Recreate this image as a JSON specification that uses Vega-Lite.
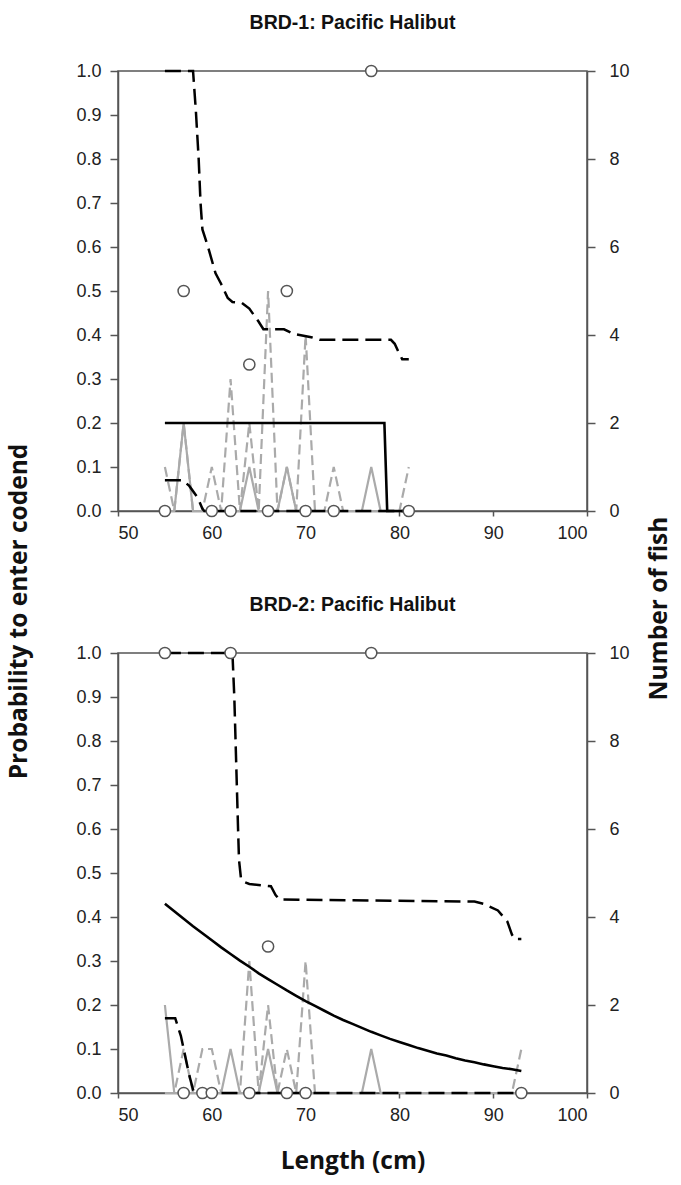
{
  "$schema": "https://vega.github.io/schema/vega-lite/v6.json",
  "padding": {"left": 6, "top": 11, "right": 4, "bottom": 5},
  "background": "white",
  "bounds": "flush",
  "spacing": 142,
  "config": {
    "view": {"stroke": "#555", "strokeWidth": 1.5},
    "axis": {"grid": false, "domainColor": "#555", "domainWidth": 1.5, "tickColor": "#555", "tickWidth": 1.5, "labelFont": "Liberation Sans", "labelFontSize": 18, "labelColor": "#222", "titleColor": "#111"},
    "title": {"font": "Liberation Sans", "fontSize": 19.5, "fontWeight": "bold", "color": "#111", "anchor": "middle", "offset": 29}
  },
  "datasets": {
    "counts": [
      {"panel":"BRD-1","series":"codend","length":55,"n":0},{"panel":"BRD-1","series":"codend","length":56,"n":0},{"panel":"BRD-1","series":"codend","length":57,"n":2},{"panel":"BRD-1","series":"codend","length":58,"n":0},{"panel":"BRD-1","series":"codend","length":59,"n":0},{"panel":"BRD-1","series":"codend","length":60,"n":0},{"panel":"BRD-1","series":"codend","length":61,"n":0},{"panel":"BRD-1","series":"codend","length":62,"n":0},{"panel":"BRD-1","series":"codend","length":63,"n":0},{"panel":"BRD-1","series":"codend","length":64,"n":1},{"panel":"BRD-1","series":"codend","length":65,"n":0},{"panel":"BRD-1","series":"codend","length":66,"n":0},{"panel":"BRD-1","series":"codend","length":67,"n":0},{"panel":"BRD-1","series":"codend","length":68,"n":1},{"panel":"BRD-1","series":"codend","length":69,"n":0},{"panel":"BRD-1","series":"codend","length":70,"n":0},{"panel":"BRD-1","series":"codend","length":71,"n":0},{"panel":"BRD-1","series":"codend","length":72,"n":0},{"panel":"BRD-1","series":"codend","length":73,"n":0},{"panel":"BRD-1","series":"codend","length":74,"n":0},{"panel":"BRD-1","series":"codend","length":75,"n":0},{"panel":"BRD-1","series":"codend","length":76,"n":0},{"panel":"BRD-1","series":"codend","length":77,"n":1},{"panel":"BRD-1","series":"codend","length":78,"n":0},{"panel":"BRD-1","series":"codend","length":79,"n":0},{"panel":"BRD-1","series":"codend","length":80,"n":0},{"panel":"BRD-1","series":"codend","length":81,"n":0},
      {"panel":"BRD-1","series":"other","length":55,"n":1},{"panel":"BRD-1","series":"other","length":56,"n":0},{"panel":"BRD-1","series":"other","length":57,"n":2},{"panel":"BRD-1","series":"other","length":58,"n":0},{"panel":"BRD-1","series":"other","length":59,"n":0},{"panel":"BRD-1","series":"other","length":60,"n":1},{"panel":"BRD-1","series":"other","length":61,"n":0},{"panel":"BRD-1","series":"other","length":62,"n":3},{"panel":"BRD-1","series":"other","length":63,"n":0},{"panel":"BRD-1","series":"other","length":64,"n":2},{"panel":"BRD-1","series":"other","length":65,"n":0},{"panel":"BRD-1","series":"other","length":66,"n":5},{"panel":"BRD-1","series":"other","length":67,"n":0},{"panel":"BRD-1","series":"other","length":68,"n":1},{"panel":"BRD-1","series":"other","length":69,"n":0},{"panel":"BRD-1","series":"other","length":70,"n":4},{"panel":"BRD-1","series":"other","length":71,"n":0},{"panel":"BRD-1","series":"other","length":72,"n":0},{"panel":"BRD-1","series":"other","length":73,"n":1},{"panel":"BRD-1","series":"other","length":74,"n":0},{"panel":"BRD-1","series":"other","length":75,"n":0},{"panel":"BRD-1","series":"other","length":76,"n":0},{"panel":"BRD-1","series":"other","length":77,"n":0},{"panel":"BRD-1","series":"other","length":78,"n":0},{"panel":"BRD-1","series":"other","length":79,"n":0},{"panel":"BRD-1","series":"other","length":80,"n":0},{"panel":"BRD-1","series":"other","length":81,"n":1},
      {"panel":"BRD-2","series":"codend","length":55,"n":2},{"panel":"BRD-2","series":"codend","length":56,"n":0},{"panel":"BRD-2","series":"codend","length":57,"n":0},{"panel":"BRD-2","series":"codend","length":58,"n":0},{"panel":"BRD-2","series":"codend","length":59,"n":0},{"panel":"BRD-2","series":"codend","length":60,"n":0},{"panel":"BRD-2","series":"codend","length":61,"n":0},{"panel":"BRD-2","series":"codend","length":62,"n":1},{"panel":"BRD-2","series":"codend","length":63,"n":0},{"panel":"BRD-2","series":"codend","length":64,"n":0},{"panel":"BRD-2","series":"codend","length":65,"n":0},{"panel":"BRD-2","series":"codend","length":66,"n":1},{"panel":"BRD-2","series":"codend","length":67,"n":0},{"panel":"BRD-2","series":"codend","length":68,"n":0},{"panel":"BRD-2","series":"codend","length":69,"n":0},{"panel":"BRD-2","series":"codend","length":70,"n":0},{"panel":"BRD-2","series":"codend","length":71,"n":0},{"panel":"BRD-2","series":"codend","length":72,"n":0},{"panel":"BRD-2","series":"codend","length":73,"n":0},{"panel":"BRD-2","series":"codend","length":74,"n":0},{"panel":"BRD-2","series":"codend","length":75,"n":0},{"panel":"BRD-2","series":"codend","length":76,"n":0},{"panel":"BRD-2","series":"codend","length":77,"n":1},{"panel":"BRD-2","series":"codend","length":78,"n":0},{"panel":"BRD-2","series":"codend","length":79,"n":0},{"panel":"BRD-2","series":"codend","length":80,"n":0},{"panel":"BRD-2","series":"codend","length":81,"n":0},{"panel":"BRD-2","series":"codend","length":82,"n":0},{"panel":"BRD-2","series":"codend","length":83,"n":0},{"panel":"BRD-2","series":"codend","length":84,"n":0},{"panel":"BRD-2","series":"codend","length":85,"n":0},{"panel":"BRD-2","series":"codend","length":86,"n":0},{"panel":"BRD-2","series":"codend","length":87,"n":0},{"panel":"BRD-2","series":"codend","length":88,"n":0},{"panel":"BRD-2","series":"codend","length":89,"n":0},{"panel":"BRD-2","series":"codend","length":90,"n":0},{"panel":"BRD-2","series":"codend","length":91,"n":0},{"panel":"BRD-2","series":"codend","length":92,"n":0},{"panel":"BRD-2","series":"codend","length":93,"n":0},
      {"panel":"BRD-2","series":"other","length":55,"n":0},{"panel":"BRD-2","series":"other","length":56,"n":0},{"panel":"BRD-2","series":"other","length":57,"n":1},{"panel":"BRD-2","series":"other","length":58,"n":0},{"panel":"BRD-2","series":"other","length":59,"n":1},{"panel":"BRD-2","series":"other","length":60,"n":1},{"panel":"BRD-2","series":"other","length":61,"n":0},{"panel":"BRD-2","series":"other","length":62,"n":0},{"panel":"BRD-2","series":"other","length":63,"n":0},{"panel":"BRD-2","series":"other","length":64,"n":3},{"panel":"BRD-2","series":"other","length":65,"n":0},{"panel":"BRD-2","series":"other","length":66,"n":2},{"panel":"BRD-2","series":"other","length":67,"n":0},{"panel":"BRD-2","series":"other","length":68,"n":1},{"panel":"BRD-2","series":"other","length":69,"n":0},{"panel":"BRD-2","series":"other","length":70,"n":3},{"panel":"BRD-2","series":"other","length":71,"n":0},{"panel":"BRD-2","series":"other","length":72,"n":0},{"panel":"BRD-2","series":"other","length":73,"n":0},{"panel":"BRD-2","series":"other","length":74,"n":0},{"panel":"BRD-2","series":"other","length":75,"n":0},{"panel":"BRD-2","series":"other","length":76,"n":0},{"panel":"BRD-2","series":"other","length":77,"n":0},{"panel":"BRD-2","series":"other","length":78,"n":0},{"panel":"BRD-2","series":"other","length":79,"n":0},{"panel":"BRD-2","series":"other","length":80,"n":0},{"panel":"BRD-2","series":"other","length":81,"n":0},{"panel":"BRD-2","series":"other","length":82,"n":0},{"panel":"BRD-2","series":"other","length":83,"n":0},{"panel":"BRD-2","series":"other","length":84,"n":0},{"panel":"BRD-2","series":"other","length":85,"n":0},{"panel":"BRD-2","series":"other","length":86,"n":0},{"panel":"BRD-2","series":"other","length":87,"n":0},{"panel":"BRD-2","series":"other","length":88,"n":0},{"panel":"BRD-2","series":"other","length":89,"n":0},{"panel":"BRD-2","series":"other","length":90,"n":0},{"panel":"BRD-2","series":"other","length":91,"n":0},{"panel":"BRD-2","series":"other","length":92,"n":0},{"panel":"BRD-2","series":"other","length":93,"n":1}
    ],
    "curves": [
      {"panel":"BRD-1","series":"fit","length":55,"prob":0.2},{"panel":"BRD-1","series":"fit","length":78.4,"prob":0.2},{"panel":"BRD-1","series":"fit","length":78.7,"prob":0},{"panel":"BRD-1","series":"fit","length":81,"prob":0},
      {"panel":"BRD-1","series":"upper","length":55,"prob":1},{"panel":"BRD-1","series":"upper","length":58,"prob":1},{"panel":"BRD-1","series":"upper","length":58.3,"prob":0.91},{"panel":"BRD-1","series":"upper","length":58.6,"prob":0.8},{"panel":"BRD-1","series":"upper","length":58.8,"prob":0.7},{"panel":"BRD-1","series":"upper","length":59,"prob":0.64},{"panel":"BRD-1","series":"upper","length":59.6,"prob":0.6},{"panel":"BRD-1","series":"upper","length":60.4,"prob":0.54},{"panel":"BRD-1","series":"upper","length":61,"prob":0.516},{"panel":"BRD-1","series":"upper","length":61.7,"prob":0.484},{"panel":"BRD-1","series":"upper","length":62.2,"prob":0.475},{"panel":"BRD-1","series":"upper","length":63.2,"prob":0.473},{"panel":"BRD-1","series":"upper","length":64,"prob":0.46},{"panel":"BRD-1","series":"upper","length":65,"prob":0.43},{"panel":"BRD-1","series":"upper","length":65.5,"prob":0.413},{"panel":"BRD-1","series":"upper","length":67.7,"prob":0.413},{"panel":"BRD-1","series":"upper","length":68.8,"prob":0.402},{"panel":"BRD-1","series":"upper","length":70.6,"prob":0.395},{"panel":"BRD-1","series":"upper","length":71.5,"prob":0.389},{"panel":"BRD-1","series":"upper","length":79.1,"prob":0.389},{"panel":"BRD-1","series":"upper","length":79.5,"prob":0.38},{"panel":"BRD-1","series":"upper","length":80,"prob":0.357},{"panel":"BRD-1","series":"upper","length":80.3,"prob":0.345},{"panel":"BRD-1","series":"upper","length":81,"prob":0.345},
      {"panel":"BRD-1","series":"lower","length":55,"prob":0.07},{"panel":"BRD-1","series":"lower","length":56.9,"prob":0.07},{"panel":"BRD-1","series":"lower","length":57.6,"prob":0.057},{"panel":"BRD-1","series":"lower","length":58.5,"prob":0.03},{"panel":"BRD-1","series":"lower","length":59,"prob":0.005},{"panel":"BRD-1","series":"lower","length":59.2,"prob":0},{"panel":"BRD-1","series":"lower","length":81,"prob":0},
      {"panel":"BRD-2","series":"fit","length":55,"prob":0.43},{"panel":"BRD-2","series":"fit","length":56,"prob":0.413},{"panel":"BRD-2","series":"fit","length":57,"prob":0.396},{"panel":"BRD-2","series":"fit","length":58,"prob":0.379},{"panel":"BRD-2","series":"fit","length":59,"prob":0.363},{"panel":"BRD-2","series":"fit","length":60,"prob":0.347},{"panel":"BRD-2","series":"fit","length":61,"prob":0.331},{"panel":"BRD-2","series":"fit","length":62,"prob":0.316},{"panel":"BRD-2","series":"fit","length":63,"prob":0.301},{"panel":"BRD-2","series":"fit","length":64,"prob":0.287},{"panel":"BRD-2","series":"fit","length":65,"prob":0.272},{"panel":"BRD-2","series":"fit","length":66,"prob":0.259},{"panel":"BRD-2","series":"fit","length":67,"prob":0.246},{"panel":"BRD-2","series":"fit","length":68,"prob":0.233},{"panel":"BRD-2","series":"fit","length":69,"prob":0.221},{"panel":"BRD-2","series":"fit","length":70,"prob":0.209},{"panel":"BRD-2","series":"fit","length":71,"prob":0.198},{"panel":"BRD-2","series":"fit","length":72,"prob":0.187},{"panel":"BRD-2","series":"fit","length":73,"prob":0.176},{"panel":"BRD-2","series":"fit","length":74,"prob":0.166},{"panel":"BRD-2","series":"fit","length":75,"prob":0.157},{"panel":"BRD-2","series":"fit","length":76,"prob":0.148},{"panel":"BRD-2","series":"fit","length":77,"prob":0.139},{"panel":"BRD-2","series":"fit","length":78,"prob":0.131},{"panel":"BRD-2","series":"fit","length":79,"prob":0.123},{"panel":"BRD-2","series":"fit","length":80,"prob":0.116},{"panel":"BRD-2","series":"fit","length":81,"prob":0.109},{"panel":"BRD-2","series":"fit","length":82,"prob":0.102},{"panel":"BRD-2","series":"fit","length":83,"prob":0.096},{"panel":"BRD-2","series":"fit","length":84,"prob":0.09},{"panel":"BRD-2","series":"fit","length":85,"prob":0.085},{"panel":"BRD-2","series":"fit","length":86,"prob":0.079},{"panel":"BRD-2","series":"fit","length":87,"prob":0.074},{"panel":"BRD-2","series":"fit","length":88,"prob":0.07},{"panel":"BRD-2","series":"fit","length":89,"prob":0.065},{"panel":"BRD-2","series":"fit","length":90,"prob":0.061},{"panel":"BRD-2","series":"fit","length":91,"prob":0.057},{"panel":"BRD-2","series":"fit","length":92,"prob":0.054},{"panel":"BRD-2","series":"fit","length":93,"prob":0.05},
      {"panel":"BRD-2","series":"upper","length":55,"prob":1},{"panel":"BRD-2","series":"upper","length":62.2,"prob":1},{"panel":"BRD-2","series":"upper","length":62.4,"prob":0.9},{"panel":"BRD-2","series":"upper","length":62.6,"prob":0.75},{"panel":"BRD-2","series":"upper","length":62.8,"prob":0.6},{"panel":"BRD-2","series":"upper","length":62.9,"prob":0.53},{"panel":"BRD-2","series":"upper","length":63.1,"prob":0.49},{"panel":"BRD-2","series":"upper","length":63.4,"prob":0.48},{"panel":"BRD-2","series":"upper","length":64,"prob":0.475},{"panel":"BRD-2","series":"upper","length":66.3,"prob":0.47},{"panel":"BRD-2","series":"upper","length":66.8,"prob":0.45},{"panel":"BRD-2","series":"upper","length":67.2,"prob":0.44},{"panel":"BRD-2","series":"upper","length":88,"prob":0.435},{"panel":"BRD-2","series":"upper","length":89,"prob":0.43},{"panel":"BRD-2","series":"upper","length":90.5,"prob":0.415},{"panel":"BRD-2","series":"upper","length":91.5,"prob":0.39},{"panel":"BRD-2","series":"upper","length":92,"prob":0.36},{"panel":"BRD-2","series":"upper","length":92.3,"prob":0.35},{"panel":"BRD-2","series":"upper","length":93,"prob":0.35},
      {"panel":"BRD-2","series":"lower","length":55,"prob":0.17},{"panel":"BRD-2","series":"lower","length":56.1,"prob":0.17},{"panel":"BRD-2","series":"lower","length":56.7,"prob":0.13},{"panel":"BRD-2","series":"lower","length":57.6,"prob":0.04},{"panel":"BRD-2","series":"lower","length":58.1,"prob":0},{"panel":"BRD-2","series":"lower","length":93,"prob":0}
    ],
    "obs": [
      {"panel":"BRD-1","length":55,"prob":0},{"panel":"BRD-1","length":57,"prob":0.5},{"panel":"BRD-1","length":60,"prob":0},{"panel":"BRD-1","length":62,"prob":0},{"panel":"BRD-1","length":64,"prob":0.333},{"panel":"BRD-1","length":66,"prob":0},{"panel":"BRD-1","length":68,"prob":0.5},{"panel":"BRD-1","length":70,"prob":0},{"panel":"BRD-1","length":73,"prob":0},{"panel":"BRD-1","length":77,"prob":1},{"panel":"BRD-1","length":81,"prob":0},
      {"panel":"BRD-2","length":55,"prob":1},{"panel":"BRD-2","length":57,"prob":0},{"panel":"BRD-2","length":59,"prob":0},{"panel":"BRD-2","length":60,"prob":0},{"panel":"BRD-2","length":62,"prob":1},{"panel":"BRD-2","length":64,"prob":0},{"panel":"BRD-2","length":66,"prob":0.333},{"panel":"BRD-2","length":68,"prob":0},{"panel":"BRD-2","length":70,"prob":0},{"panel":"BRD-2","length":77,"prob":1},{"panel":"BRD-2","length":93,"prob":0}
    ]
  },
  "vconcat": [
    {
      "title": {"text": "BRD-1: Pacific Halibut"},
      "width": 469, "height": 440,
      "encoding": {"x": {"field": "length", "type": "quantitative", "scale": {"domain": [50, 100], "nice": false, "zero": false}, "axis": {"values": [50, 60, 70, 80, 90, 100], "tickSize": 5, "labelPadding": 8, "labelFontSize": 18, "title": null}}},
      "resolve": {"scale": {"y": "independent"}},
      "layer": [
        {
          "encoding": {"y": {"field": "n", "type": "quantitative", "scale": {"domain": [0, 10], "nice": false}, "axis": {"orient": "right", "values": [0, 2, 4, 6, 8, 10], "tickSize": 8, "labelPadding": 14, "labelFontSize": 18, "title": "Number of fish", "titleFont": "Open Sans", "titleFontSize": 24.5, "titleFontWeight": "bold", "titleAngle": 270, "titleBaseline": "top", "titleY": 537, "titlePadding": 18}}},
          "layer": [
            {"data": {"name": "counts"}, "transform": [{"filter": "datum.panel === 'BRD-1' && datum.series === 'codend'"}], "mark": {"type": "line", "color": "#aaaaaa", "strokeWidth": 2.2}},
            {"data": {"name": "counts"}, "transform": [{"filter": "datum.panel === 'BRD-1' && datum.series === 'other'"}], "mark": {"type": "line", "color": "#aaaaaa", "strokeWidth": 2.2, "strokeDash": [10, 5]}}
          ]
        },
        {
          "encoding": {"y": {"field": "prob", "type": "quantitative", "scale": {"domain": [0, 1], "nice": false}, "axis": {"orient": "left", "values": [0, 0.1, 0.2, 0.3, 0.4, 0.5, 0.6, 0.7, 0.8, 0.9, 1], "format": ".1f", "tickSize": 8, "labelPadding": 9, "labelFontSize": 18, "title": "Probability to enter codend", "titleFont": "Open Sans", "titleFontSize": 24.5, "titleFontWeight": "bold", "titleY": 540, "titlePadding": 44}}},
          "layer": [
            {"data": {"name": "curves"}, "transform": [{"filter": "datum.panel === 'BRD-1' && datum.series !== 'fit'"}], "mark": {"type": "line", "color": "#000", "strokeWidth": 2.5, "strokeDash": [16, 7]}, "encoding": {"detail": {"field": "series"}}},
            {"data": {"name": "curves"}, "transform": [{"filter": "datum.panel === 'BRD-1' && datum.series === 'fit'"}], "mark": {"type": "line", "color": "#000", "strokeWidth": 2.6}},
            {"data": {"name": "obs"}, "transform": [{"filter": "datum.panel === 'BRD-1'"}], "mark": {"type": "point", "shape": "circle", "filled": true, "fill": "white", "stroke": "#555", "strokeWidth": 1.5, "size": 125, "opacity": 1}}
          ]
        }
      ]
    },
    {
      "title": {"text": "BRD-2: Pacific Halibut"},
      "width": 469, "height": 440,
      "encoding": {"x": {"field": "length", "type": "quantitative", "scale": {"domain": [50, 100], "nice": false, "zero": false}, "axis": {"values": [50, 60, 70, 80, 90, 100], "tickSize": 5, "labelPadding": 8, "labelFontSize": 18, "title": "Length (cm)", "titleFont": "Open Sans", "titleFontSize": 24.5, "titleFontWeight": "bold", "titlePadding": 25}}},
      "resolve": {"scale": {"y": "independent"}},
      "layer": [
        {
          "encoding": {"y": {"field": "n", "type": "quantitative", "scale": {"domain": [0, 10], "nice": false}, "axis": {"orient": "right", "values": [0, 2, 4, 6, 8, 10], "tickSize": 8, "labelPadding": 14, "labelFontSize": 18, "title": null}}},
          "layer": [
            {"data": {"name": "counts"}, "transform": [{"filter": "datum.panel === 'BRD-2' && datum.series === 'codend'"}], "mark": {"type": "line", "color": "#aaaaaa", "strokeWidth": 2.2}},
            {"data": {"name": "counts"}, "transform": [{"filter": "datum.panel === 'BRD-2' && datum.series === 'other'"}], "mark": {"type": "line", "color": "#aaaaaa", "strokeWidth": 2.2, "strokeDash": [10, 5]}}
          ]
        },
        {
          "encoding": {"y": {"field": "prob", "type": "quantitative", "scale": {"domain": [0, 1], "nice": false}, "axis": {"orient": "left", "values": [0, 0.1, 0.2, 0.3, 0.4, 0.5, 0.6, 0.7, 0.8, 0.9, 1], "format": ".1f", "tickSize": 8, "labelPadding": 9, "labelFontSize": 18, "title": null}}},
          "layer": [
            {"data": {"name": "curves"}, "transform": [{"filter": "datum.panel === 'BRD-2' && datum.series !== 'fit'"}], "mark": {"type": "line", "color": "#000", "strokeWidth": 2.5, "strokeDash": [16, 7]}, "encoding": {"detail": {"field": "series"}}},
            {"data": {"name": "curves"}, "transform": [{"filter": "datum.panel === 'BRD-2' && datum.series === 'fit'"}], "mark": {"type": "line", "color": "#000", "strokeWidth": 2.6}},
            {"data": {"name": "obs"}, "transform": [{"filter": "datum.panel === 'BRD-2'"}], "mark": {"type": "point", "shape": "circle", "filled": true, "fill": "white", "stroke": "#555", "strokeWidth": 1.5, "size": 125, "opacity": 1}}
          ]
        }
      ]
    }
  ]
}
